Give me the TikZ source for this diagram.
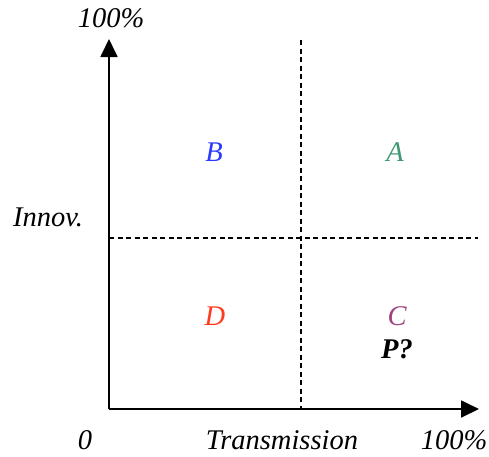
\documentclass[tikz,border=0pt]{standalone}
\usepackage{fontspec}
\setmainfont{Liberation Serif}
\usepackage{xcolor}
\usepackage{tikz}
\usetikzlibrary{arrows.meta,positioning}
\definecolor{quadblue}{HTML}{2B3BFF}
\definecolor{quadgreen}{HTML}{3E9A72}
\definecolor{quadred}{HTML}{FF3A1E}
\definecolor{quadpurple}{HTML}{A0427E}

\begin{document}
\begin{tikzpicture}[x=1pt,y=-1pt,
  axis/.style={line width=1.8pt,-{Triangle[length=18pt,width=17pt]}},
  split/.style={line width=1.2pt,dash pattern=on 5pt off 3.5pt},
  lbl/.style={font=\fontsize{28.5}{33}\selectfont\itshape,inner sep=0pt}]
  \useasboundingbox (0,0) rectangle (489,456);
  % axes
  \coordinate (O) at (109,409);
  \coordinate (xend) at (479,409);
  \coordinate (yend) at (109,39);
  \draw[axis] (O) -- (xend);
  \draw[axis] (O) -- (yend);
  % quadrant split
  \coordinate (vtop) at (301,40);
  \coordinate (vbot) at (301,409);
  \coordinate (hleft) at (109,238);
  \coordinate (hright) at (478,238);
  \draw[split] (vtop) -- (vbot);
  \draw[split] (hleft) -- (hright);
  % axis labels
  \node[lbl] (ytop) at (111,18) {100\%};
  \node[lbl] (innov) at (48,217) {Innov.};
  \node[lbl] (zero) at (85,440) {0};
  \node[lbl] (trans) at (282,440) {Transmission};
  \node[lbl] (xright) at (454,440) {100\%};
  % quadrants
  \node[lbl,text=quadblue] (qB) at (214,152) {B};
  \node[lbl,text=quadgreen] (qA) at (395,152) {A};
  \node[lbl,text=quadred] (qD) at (215,316) {D};
  \node[lbl,text=quadpurple] (qC) at (397,316) {C};
  \node[lbl,font=\fontsize{28.5}{33}\selectfont\bfseries\itshape] (P) at (397,349) {P?};
\end{tikzpicture}
\end{document}
